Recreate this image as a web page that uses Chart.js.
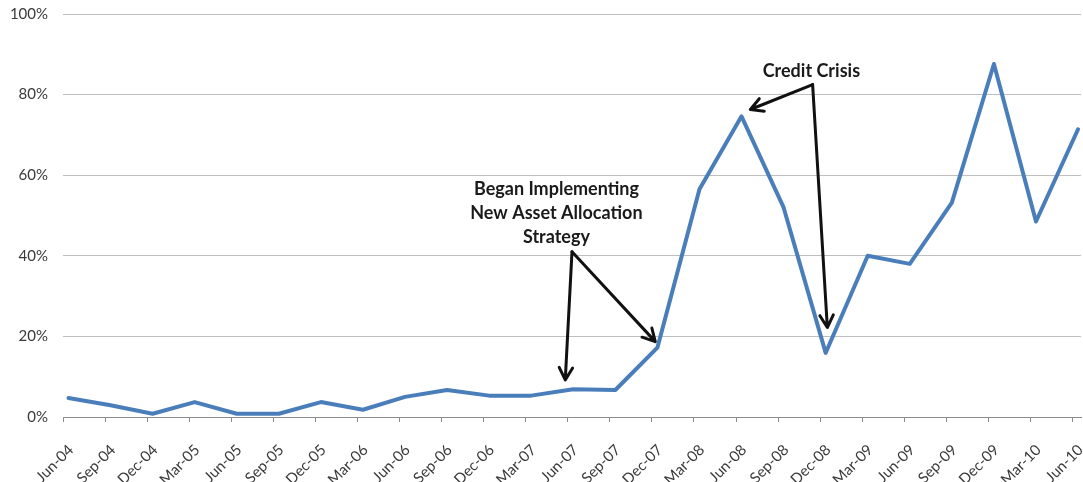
<!DOCTYPE html>
<html>
<head>
<meta charset="utf-8">
<script src="https://cdn.jsdelivr.net/npm/chart.js@4"></script>
<style>
  html, body { margin: 0; padding: 0; background: #fff; }
  #wrap { width: 1083px; height: 482px; }
</style>
</head>
<body>
<div id="wrap"><canvas id="myChart"></canvas></div>
<script>
// quarter labels on the x axis
const quarters = ["Jun-04", "Sep-04", "Dec-04", "Mar-05", "Jun-05", "Sep-05", "Dec-05", "Mar-06",
  "Jun-06", "Sep-06", "Dec-06", "Mar-07", "Jun-07", "Sep-07", "Dec-07", "Mar-08", "Jun-08",
  "Sep-08", "Dec-08", "Mar-09", "Jun-09", "Sep-09", "Dec-09", "Mar-10", "Jun-10"];
// values in percent
const values = [4.7, 2.9, 0.8, 3.7, 0.8, 0.8, 3.7, 1.8, 5.0, 6.7, 5.3, 5.3, 6.9, 6.7, 17.2,
  56.5, 74.6, 52.0, 15.9, 40.0, 38.0, 53.2, 87.6, 48.5, 71.4];
const yTicks = [0, 20, 40, 60, 80, 100];
// points sit mid-month, a little after the quarter tick
const midMonth = 0.13;

// annotation text (x in quarters, y in %)
const notes = [
  { lines: ["Began Implementing", "New Asset Allocation", "Strategy"], x: 11.73, y: 56.6 },
  { lines: ["Credit Crisis"], x: 17.79, y: 85.9 },
];
const arrows = [
  { from: [12.1, 41], to: [11.94, 9.2] },
  { from: [12.1, 41], to: [14.08, 18.7] },
  { from: [17.82, 82.5], to: [16.34, 76.3] },
  { from: [17.82, 82.5], to: [18.17, 22.2] },
];

const points = values.map((v, i) => ({ x: i + midMonth, y: v }));

const notesPlugin = {
  id: "notes",
  afterDatasetsDraw(chart) {
    const ctx = chart.ctx;
    const xs = chart.scales.x;
    const ys = chart.scales.y;
    ctx.save();
    ctx.strokeStyle = "#111";
    ctx.fillStyle = "#1a1a1a";
    ctx.lineWidth = 3;
    ctx.lineCap = "round";
    ctx.lineJoin = "round";
    arrows.forEach((a) => {
      const x1 = xs.getPixelForValue(a.from[0]);
      const y1 = ys.getPixelForValue(a.from[1]);
      const x2 = xs.getPixelForValue(a.to[0]);
      const y2 = ys.getPixelForValue(a.to[1]);
      const ang = Math.atan2(y2 - y1, x2 - x1);
      const head = 14;
      ctx.beginPath();
      ctx.moveTo(x1, y1);
      ctx.lineTo(x2, y2);
      ctx.moveTo(x2 - head * Math.cos(ang - 0.5), y2 - head * Math.sin(ang - 0.5));
      ctx.lineTo(x2, y2);
      ctx.lineTo(x2 - head * Math.cos(ang + 0.5), y2 - head * Math.sin(ang + 0.5));
      ctx.stroke();
    });
    ctx.font = "bold 18px Lato";
    ctx.textAlign = "center";
    ctx.textBaseline = "middle";
    notes.forEach((n) => {
      const cx = xs.getPixelForValue(n.x);
      const cy = ys.getPixelForValue(n.y);
      n.lines.forEach((line, k) => {
        ctx.fillText(line, cx, cy + k * 24);
      });
    });
    ctx.restore();
  },
};

new Chart(document.getElementById("myChart"), {
  type: "line",
  data: {
    datasets: [
      {
        data: points,
        borderColor: "#4a7ebb",
        borderWidth: 4,
        pointRadius: 0,
        tension: 0,
        borderJoinStyle: "round",
        borderCapStyle: "round",
      },
    ],
  },
  options: {
    responsive: true,
    maintainAspectRatio: false,
    animation: false,
    layout: { padding: { top: 14, right: 2, left: 0, bottom: 0 } },
    plugins: { legend: { display: false }, tooltip: { enabled: false } },
    scales: {
      x: {
        type: "linear",
        min: 0,
        max: 24.2,
        afterBuildTicks: (scale) => {
          scale.ticks = quarters.map((q, i) => ({ value: i }));
        },
        afterFit: (scale) => {
          scale.height = 65;
          scale.paddingLeft = 0;
          scale.paddingRight = 0;
        },
        ticks: {
          autoSkip: false,
          maxRotation: 45,
          minRotation: 45,
          padding: 19,
          labelOffset: 8,
          color: "#3a3a3a",
          font: { family: "Lato", size: 15 },
          callback: (v) => quarters[v],
        },
        grid: { drawOnChartArea: false, tickLength: 5, color: "#8c8c8c" },
        border: { color: "#8c8c8c", width: 1 },
      },
      y: {
        min: 0,
        max: 100,
        afterBuildTicks: (scale) => {
          scale.ticks = yTicks.map((v) => ({ value: v }));
        },
        afterFit: (scale) => {
          scale.width = 63;
          scale.paddingTop = 0;
          scale.paddingBottom = 0;
        },
        ticks: {
          padding: 15,
          color: "#3a3a3a",
          font: { family: "Lato", size: 15 },
          callback: (v) => v + "%",
        },
        grid: { color: "#bfbfbf", drawTicks: false },
        border: { display: false },
      },
    },
  },
  plugins: [notesPlugin],
});
</script>
</body>
</html>
